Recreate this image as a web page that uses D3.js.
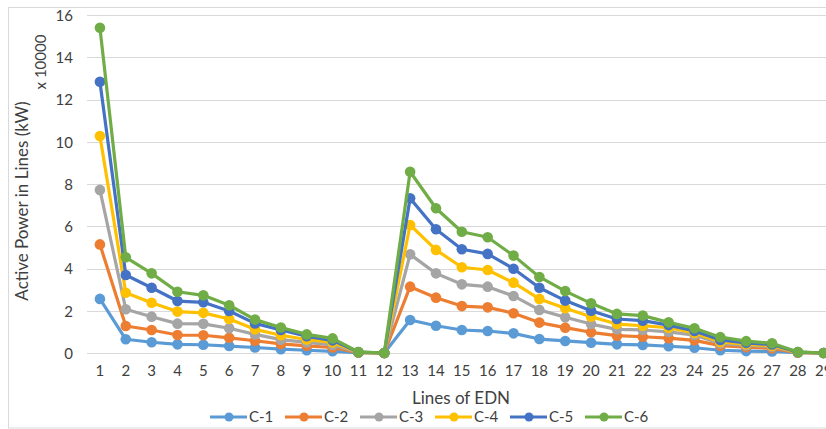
<!DOCTYPE html>
<html><head><meta charset="utf-8">
<script src="https://cdn.jsdelivr.net/npm/d3@7"></script>
<style>html,body{margin:0;padding:0;background:#fff;overflow:hidden}</style>
</head><body>
<svg id="chart" width="826" height="429"></svg>
<script>
const categories = d3.range(1, 30).map(String);
const seriesNames = ["C-1","C-2","C-3","C-4","C-5","C-6"];
const c1 = [2.56,0.65,0.51,0.41,0.39,0.33,0.26,0.18,0.13,0.08,0.02,0,1.56,1.29,1.09,1.04,0.93,0.66,0.57,0.49,0.41,0.38,0.32,0.25,0.13,0.09,0.07,0.02,0];
const c2 = [5.14,1.28,1.09,0.85,0.84,0.72,0.58,0.43,0.34,0.26,0.02,0,3.14,2.62,2.22,2.16,1.88,1.44,1.2,0.98,0.82,0.77,0.7,0.6,0.35,0.28,0.22,0.02,0];
const c3 = [7.72,2.07,1.72,1.39,1.38,1.17,0.88,0.63,0.5,0.38,0.03,0,4.67,3.77,3.25,3.14,2.7,2.04,1.69,1.37,1.12,1.09,1.0,0.85,0.45,0.36,0.3,0.03,0];
const c4 = [10.27,2.85,2.38,1.96,1.9,1.61,1.12,0.84,0.64,0.5,0.03,0,6.06,4.88,4.06,3.93,3.33,2.56,2.12,1.72,1.37,1.29,1.2,0.95,0.52,0.42,0.34,0.03,0];
const c5 = [12.84,3.69,3.09,2.46,2.4,1.99,1.4,1.09,0.79,0.6,0.04,0,7.32,5.86,4.91,4.69,3.99,3.09,2.48,2.0,1.61,1.53,1.32,1.04,0.62,0.48,0.4,0.04,0];
const c6 = [15.4,4.53,3.77,2.9,2.73,2.26,1.58,1.21,0.88,0.69,0.05,0,8.58,6.85,5.74,5.48,4.61,3.6,2.93,2.35,1.85,1.77,1.45,1.17,0.75,0.56,0.46,0.05,0];
const yTicks = [0,2,4,6,8,10,12,14,16];
const colors = ["#5B9BD5","#ED7D31","#A5A5A5","#FFC000","#4472C4","#70AD47"];
const series = [c1,c2,c3,c4,c5,c6];

const FONT = "Lato, 'Liberation Sans', sans-serif";
const svg = d3.select("#chart").style("font-family", FONT);
svg.append("rect").attr("x",0).attr("y",0).attr("width",826).attr("height",429).attr("fill","#fff");
svg.append("rect").attr("x",8.5).attr("y",7.5).attr("width",840).attr("height",420.5)
  .attr("fill","none").attr("stroke","#d9d9d9").attr("stroke-width",1);

const x = d3.scaleBand().domain(categories).range([87, 87 + 29*25.85]).paddingInner(0).paddingOuter(0);
const y = d3.scaleLinear().domain([0,16]).range([353,15]);
const cx = d => x(d) + x.bandwidth()/2;

// gridlines
svg.append("g").selectAll("line").data(yTicks).join("line")
  .attr("x1",87).attr("x2",840).attr("y1",d=>Math.round(y(d))+0.5).attr("y2",d=>Math.round(y(d))+0.5)
  .attr("stroke","#d9d9d9").attr("stroke-width",1);

// y axis labels
const yAxis = d3.axisLeft(y).tickValues(yTicks).tickSize(0).tickPadding(0);
const gy = svg.append("g").attr("transform","translate(73,0)").call(yAxis);
gy.select(".domain").remove();
gy.selectAll("text").attr("font-family",FONT).attr("font-size",15).attr("fill","#404040").attr("dy","0.35em");

// x axis labels
const xAxis = d3.axisBottom(x).tickSize(0).tickPadding(0);
const gx = svg.append("g").attr("transform","translate(0,365)").call(xAxis);
gx.select(".domain").remove();
gx.selectAll("text").attr("font-family",FONT).attr("font-size",15).attr("fill","#404040").attr("dy","0.71em");

// titles
svg.append("text").attr("transform","translate(28,201) rotate(-90)").attr("text-anchor","middle")
  .attr("font-size",17).attr("fill","#404040").text("Active Power in Lines (kW)");
svg.append("text").attr("transform","translate(46,62) rotate(-90)").attr("text-anchor","middle")
  .attr("font-size",15).attr("fill","#404040").text("x 10000");
svg.append("text").attr("x",461).attr("y",404).attr("text-anchor","middle")
  .attr("font-size",17).attr("fill","#404040").text("Lines of EDN");

// series
const line = d3.line().x((d,i)=>cx(categories[i])).y(d=>y(d));
series.forEach((s,k)=>{
  const g = svg.append("g");
  g.append("path").datum(s).attr("d",line).attr("fill","none").attr("stroke",colors[k])
    .attr("stroke-width",3.2).attr("stroke-linejoin","round");
  g.selectAll("circle").data(s).join("circle")
    .attr("cx",(d,i)=>cx(categories[i])).attr("cy",d=>y(d)).attr("r",5.3).attr("fill",colors[k]);
});

// legend
const lg = svg.append("g");
seriesNames.forEach((n,k)=>{
  const x0 = 210 + k*75;
  lg.append("line").attr("x1",x0).attr("x2",x0+37).attr("y1",417).attr("y2",417)
    .attr("stroke",colors[k]).attr("stroke-width",3.2);
  lg.append("circle").attr("cx",x0+19).attr("cy",417).attr("r",4.5).attr("fill",colors[k]);
  lg.append("text").attr("x",x0+39).attr("y",422).attr("font-size",15).attr("fill","#404040").text(n);
});
</script>
</body></html>
